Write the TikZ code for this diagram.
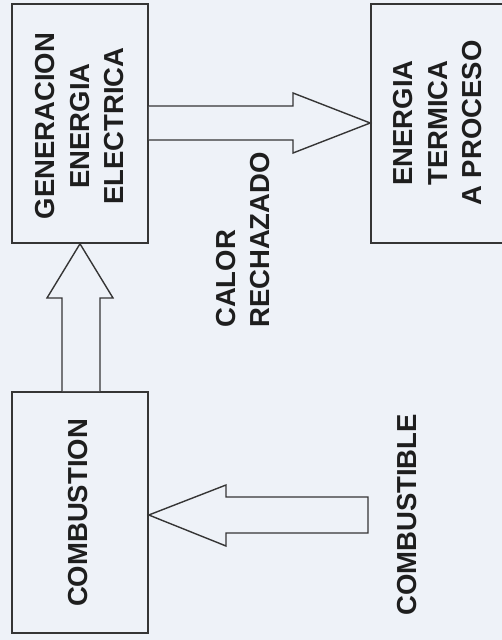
\documentclass[tikz,border=0pt]{standalone}
\usepackage{fontspec}
\setmainfont{Liberation Sans}
\begin{document}
\definecolor{paper}{HTML}{EEF2F8}
\definecolor{ink}{HTML}{353535}
\definecolor{txt}{HTML}{1E1E1E}
\tikzset{
  block/.style={draw=ink, line width=1.6pt, rectangle, inner sep=0pt},
  vlabel/.style={rotate=90, align=center, text=txt, inner sep=0pt,
    font=\bfseries\fontsize{27.5}{34.5}\selectfont},
  vlabelleft/.style={vlabel, align=left},
  flow/.style={draw=ink, line width=1.4pt, line join=miter, fill=paper}
}
\begin{tikzpicture}[x=1pt,y=-1pt]
  \useasboundingbox (0,0) rectangle (502,640);
  \fill[paper] (0,0) rectangle (502,640);
  \clip (0,0) rectangle (502,640);

  % process blocks
  \node[block, minimum width=136pt, minimum height=239pt] (gen) at (80,123.5) {};
  \node[block, minimum width=136pt, minimum height=239pt] (proc) at (439,123.5) {};
  \node[block, minimum width=136pt, minimum height=241pt] (comb) at (80,512.5) {};

  \node[vlabel] (gentext) at (80,126) {GENERACION\\ENERGIA\\ELECTRICA};
  \node[vlabel] (proctext) at (438,123) {ENERGIA\\TERMICA\\A PROCESO};
  \node[vlabel] (combtext) at (78,513) {COMBUSTION};

  % free labels
  \node[vlabelleft, anchor=north west] (calor) at (216,328) {CALOR\\RECHAZADO};
  \node[vlabel] (fuel) at (407,515) {COMBUSTIBLE};

  % hollow block arrows
  \coordinate (fuelin) at (368,515);
  \draw[flow] (comb.north -| 62,0) -- (62,298) -- (47,298) -- (gen.south)
    -- (113,298) -- (100,298) -- (comb.north -| 100,0);
  \draw[flow] (gen.east |- 0,106) -- (293,106) -- (293,93) -- (proc.west |- 0,123)
    -- (293,153) -- (293,140) -- (gen.east |- 0,140);
  \draw[flow] (fuelin |- 0,497) -- (226,497) -- (226,485) -- (comb.east |- 0,515)
    -- (226,546) -- (226,533) -- (fuelin |- 0,533) -- cycle;
\end{tikzpicture}
\end{document}
